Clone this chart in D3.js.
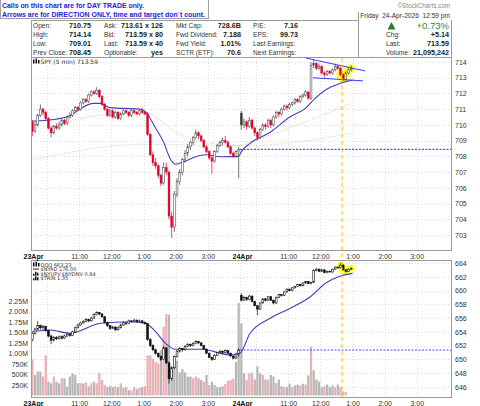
<!DOCTYPE html>
<html>
<head>
<meta charset="utf-8">
<script src="https://cdn.jsdelivr.net/npm/d3@7"></script>
<style>
  body { margin: 0; background: #fff; }
  svg { display: block; font-family: "Liberation Sans", Arial, sans-serif; }
</style>
</head>
<body>
<svg width="480" height="406"></svg>
<script>
// ---- data ----
// SPY 5 min bars [open, high, low, close]
const spyDay1 = [
  [710.2,710.3,709.3,709.6],[709.6,710.2,709.5,710.0],[710.0,710.7,709.9,710.6],[710.6,711.3,710.5,711.0],
  [711.0,711.1,710.6,710.8],[710.8,710.9,710.3,710.4],[710.4,710.5,709.7,709.8],[709.8,709.9,709.2,709.5],
  [709.5,710.0,709.4,709.9],[709.9,710.1,709.7,709.8],[709.8,710.2,709.7,710.0],[710.0,710.4,709.9,710.3],
  [710.3,710.4,710.0,710.1],[710.1,710.6,710.0,710.5],[710.5,710.8,710.4,710.6],[710.6,711.0,710.5,710.9],
  [710.9,711.2,710.8,711.1],[711.1,711.2,710.9,711.0],[711.0,711.5,710.9,711.4],[711.4,711.7,711.3,711.6],
  [711.6,711.7,711.4,711.5],[711.5,712.0,711.4,711.9],[711.9,712.2,711.8,712.1],[712.1,712.2,711.9,712.0],
  [712.0,712.4,711.9,712.2],[712.2,712.3,711.7,711.8],[711.8,711.9,711.2,711.3],[711.3,711.4,710.9,711.0],
  [711.0,711.1,710.5,710.6],[710.6,711.0,710.5,710.9],[710.9,711.0,710.4,710.5],[710.5,710.9,710.4,710.8],
  [710.8,710.9,710.3,710.4],[710.4,710.8,710.3,710.7],[710.7,711.0,710.6,710.9],[710.9,711.0,710.7,710.8],
  [710.8,710.9,710.5,710.6],[710.6,711.0,710.5,710.9],[710.9,711.0,710.7,710.8],[710.8,710.9,710.6,710.7],
  [710.7,711.0,710.6,710.9],[710.9,711.1,710.7,710.8],[710.8,710.9,710.6,710.7],[710.7,710.8,709.3,709.4],
  [709.4,709.5,708.0,708.1],[708.1,708.3,707.4,707.6],[707.6,707.9,707.2,707.4],[707.4,707.5,706.6,706.8],
  [706.8,706.9,706.1,706.3],[706.3,707.6,706.2,707.3],[707.3,707.6,706.8,707.0],[707.0,707.1,704.0,704.2],
  [704.2,704.5,702.8,703.5],[703.5,705.8,703.2,705.6],[705.6,706.6,705.4,706.4],[706.4,707.2,706.2,707.0],
  [707.0,707.9,706.8,707.8],[707.8,708.4,707.6,708.2],[708.2,708.8,708.0,708.6],[708.6,709.0,708.4,708.9],
  [708.9,709.3,708.7,709.2],[709.2,709.7,709.1,709.5],[709.5,709.6,709.1,709.3],[709.3,709.4,708.9,709.0],
  [709.0,709.1,708.5,708.6],[708.6,708.7,708.2,708.3],[708.3,708.4,707.8,707.9],[707.9,708.0,706.9,707.7],
  [707.7,708.4,707.6,708.3],[708.3,708.8,708.2,708.7],[708.7,709.0,708.6,708.9],[708.9,709.2,708.7,709.0],
  [709.0,709.3,708.8,708.9],[708.9,709.0,708.5,708.6],[708.6,708.7,708.1,708.2],[708.2,708.3,707.9,708.0],
  [708.0,708.4,707.9,708.3],[708.3,708.6,706.6,708.45]
];
const spyDay2 = [
  [710.75,710.9,709.7,710.0],[710.0,710.4,709.8,710.2],[710.2,710.3,709.7,709.9],[709.9,710.5,709.8,710.3],
  [710.3,710.4,709.7,709.8],[709.8,709.9,709.3,709.5],[709.5,709.6,709.01,709.2],[709.2,709.8,709.1,709.7],
  [709.7,710.1,709.6,710.0],[710.0,710.1,709.7,709.9],[709.9,710.4,709.8,710.3],[710.3,710.4,709.8,710.0],
  [710.0,710.6,709.9,710.5],[710.5,710.9,710.4,710.8],[710.8,710.9,710.5,710.7],[710.7,711.1,710.6,711.0],
  [711.0,711.3,710.9,711.2],[711.2,711.3,710.9,711.1],[711.1,711.4,711.0,711.3],[711.3,711.5,711.2,711.4],
  [711.4,711.7,711.3,711.6],[711.6,711.7,711.4,711.5],[711.5,711.9,711.4,711.8],[711.8,712.0,711.7,711.9],
  [711.9,712.2,711.8,712.1],[712.1,712.1,711.6,711.7],[711.7,714.0,711.6,713.8],[713.8,714.14,713.6,713.9],
  [713.9,714.0,713.5,713.6],[713.6,713.9,713.5,713.7],[713.7,713.8,713.2,713.3],[713.3,713.4,713.0,713.2],
  [713.2,713.5,713.1,713.4],[713.4,713.5,713.2,713.3],[713.3,713.6,713.2,713.5],[713.5,713.9,713.4,713.7],
  [713.7,713.8,713.5,713.6],[713.6,713.7,713.1,713.2],[713.2,713.3,712.8,712.9],[712.9,713.4,712.8,713.3],
  [713.3,713.6,713.2,713.5],[713.5,713.8,713.4,713.59]
];

// QQQ 5 min bars [open, high, low, close]
const qqqDay1 = [
  [652.9,654.0,652.6,653.8],[653.8,654.6,653.6,654.4],[654.4,655.6,654.2,654.9],[654.9,655.1,654.3,654.6],
  [654.6,655.0,654.3,654.8],[654.8,654.9,654.0,654.2],[654.2,654.3,653.2,653.4],[653.4,653.6,652.2,652.8],
  [652.8,653.4,652.6,653.2],[653.2,653.4,652.8,653.0],[653.0,653.5,652.9,653.3],[653.3,653.5,652.9,653.1],
  [653.1,653.6,653.0,653.4],[653.4,653.9,653.3,653.7],[653.7,653.8,653.3,653.5],[653.5,654.2,653.4,654.0],
  [654.0,654.8,653.9,654.6],[654.6,655.2,654.5,655.0],[655.0,655.5,654.9,655.3],[655.3,655.7,655.2,655.5],
  [655.5,656.0,655.4,655.8],[655.8,655.9,655.4,655.6],[655.6,656.2,655.5,656.0],[656.0,656.7,655.9,656.5],
  [656.5,657.0,656.4,656.8],[656.8,656.9,656.4,656.6],[656.6,656.7,656.0,656.2],[656.2,656.3,655.2,655.4],
  [655.4,655.5,654.7,654.9],[654.9,655.0,654.3,654.5],[654.5,654.9,654.4,654.7],[654.7,654.8,654.1,654.3],
  [654.3,654.8,654.2,654.6],[654.6,655.2,654.5,655.0],[655.0,655.5,654.9,655.3],[655.3,655.4,655.0,655.2],
  [655.2,655.8,655.1,655.6],[655.6,655.7,655.3,655.5],[655.5,655.9,655.4,655.7],[655.7,655.8,655.3,655.5],
  [655.5,655.8,655.4,655.6],[655.6,655.7,655.2,655.4],[655.4,655.5,655.0,655.2],[655.2,655.3,652.7,652.9],
  [652.9,653.1,651.8,652.0],[652.0,652.2,651.2,651.4],[651.4,651.6,650.7,650.9],[650.9,651.0,650.2,650.4],
  [650.4,650.6,649.8,650.0],[650.0,652.0,649.9,651.7],[651.7,651.8,649.3,649.5],[649.5,649.7,646.5,647.2],
  [647.2,649.0,646.9,648.8],[648.8,650.6,648.6,650.4],[650.4,651.4,650.2,651.2],[651.2,651.8,651.0,651.6],
  [651.6,651.7,651.1,651.4],[651.4,652.1,651.3,651.9],[651.9,652.4,651.8,652.2],[652.2,652.3,651.8,652.0],
  [652.0,652.5,651.9,652.3],[652.3,652.8,652.2,652.6],[652.6,652.7,652.2,652.4],[652.4,652.5,651.9,652.0],
  [652.0,652.1,651.4,651.5],[651.5,651.6,650.8,650.9],[650.9,651.0,650.2,650.3],[650.3,650.4,649.8,650.0],
  [650.0,650.8,649.9,650.6],[650.6,651.1,650.5,651.0],[651.0,651.4,650.9,651.2],[651.2,651.3,650.8,651.0],
  [651.0,651.5,650.9,651.3],[651.3,651.4,650.8,650.9],[650.9,651.0,650.4,650.5],[650.5,650.6,650.0,650.2],
  [650.2,651.0,650.1,650.8],[650.8,651.6,650.4,651.4]
];
const qqqDay2 = [
  [659.3,659.6,658.4,658.6],[658.6,659.2,658.5,659.0],[659.0,659.1,658.5,658.7],[658.7,659.4,658.6,659.2],
  [659.2,659.3,658.3,658.4],[658.4,658.5,657.7,657.8],[657.8,657.9,656.4,657.3],[657.3,658.3,657.2,658.2],
  [658.2,658.9,658.1,658.8],[658.8,658.9,658.4,658.6],[658.6,659.2,658.5,659.1],[659.1,659.2,658.5,658.6],
  [658.6,658.7,658.0,658.2],[658.2,659.1,658.1,659.0],[659.0,659.5,658.9,659.4],[659.4,659.5,659.1,659.3],
  [659.3,659.9,659.2,659.8],[659.8,660.3,659.7,660.2],[660.2,660.3,659.9,660.0],[660.0,660.5,659.9,660.4],
  [660.4,660.7,660.3,660.6],[660.6,661.0,660.5,660.9],[660.9,661.0,660.6,660.7],[660.7,661.2,660.6,661.1],
  [661.1,661.4,661.0,661.3],[661.3,661.4,660.9,661.0],[661.0,661.3,660.9,661.2],[661.2,663.1,661.1,662.9],
  [662.9,663.3,662.8,663.1],[663.1,663.2,662.7,662.8],[662.8,663.2,662.7,663.0],[663.0,663.1,662.5,662.6],
  [662.6,662.9,662.5,662.8],[662.8,662.9,662.6,662.7],[662.7,663.2,662.6,663.1],[663.1,663.5,663.0,663.4],
  [663.4,663.5,663.2,663.3],[663.3,664.0,663.2,663.7],[663.7,663.8,662.9,663.0],[663.0,663.1,662.6,662.8],
  [662.8,663.2,662.7,663.1],[663.1,663.4,663.0,663.23]
];

// volume (millions) and bar colour: r = down (pink), g = up (grey)
const volDay1 = [
  0.86,0.49,0.57,0.57,0.45,0.96,0.33,0.29,0.45,0.33,0.29,0.41,0.41,0.21,0.45,0.53,
  0.49,0.29,0.29,0.29,0.31,0.22,0.29,0.33,0.29,0.54,0.37,0.25,0.20,0.22,0.20,0.22,
  0.20,0.29,0.18,0.20,0.13,0.12,0.20,0.15,0.18,0.20,0.22,0.96,0.96,0.87,0.80,0.76,
  1.08,1.64,1.94,1.92,0.69,0.76,0.83,0.55,0.63,0.55,0.45,0.45,0.41,0.45,0.41,0.37,
  0.33,0.49,0.25,0.33,0.25,0.20,0.20,0.22,0.27,0.35,0.37,0.40,0.80,2.20
];
const volColDay1 = "rgggrrggrg" + "grggggggrg" + "rgrgrrrrgg" + "grgrgrgrrg" +
  "rgrrrrrrgr" + "rggggggggg" + "rrggrgrggg" + "ggrrrrgg";
const volDay2 = [
  1.72,0.53,0.37,0.53,0.54,0.38,0.69,0.53,0.49,0.38,0.38,0.49,0.45,0.30,0.38,0.22,
  0.20,0.20,0.28,0.20,0.24,0.26,0.24,0.28,0.26,0.48,1.16,0.60,0.38,0.33,0.20,0.22,
  0.26,0.20,0.24,0.20,0.26,0.20,0.10,0.08,0,0
];
const volColDay2 = "ggrrrgggrgrggrggrggrggrgrgrggggrgggrgrrrrr";

// moving averages, [bar index, value] knots
const spyMA = [[0,710.25],[5.5,710.3],[13,710.52],[22.7,711.37],[25.4,711.37],[29,711.1],[40.4,711.0],
  [42.2,710.84],[46,709.8],[49,708.9],[51.6,707.8],[53.5,707.5],[56.5,707.66],[61,707.98],[64.7,708.1],
  [70.4,707.98],[77,708.0],[78,708.3],[81.25,708.83],[88.75,709.53],[96.25,710.52],[101.9,711.05],
  [105.6,711.7],[109.4,712.22],[115,712.65],[119.5,712.86]];
const spyMA2 = [[7,709.9],[25,710.6],[42,710.75],[55,709.4],[66,708.85],[77,708.68],[81,708.9],[119.5,711.4]];
const spyMA3 = [[0,707.77],[42,708.77],[78,708.65],[119.5,709.47]];
const qqqMA = [[0,654.03],[6.6,654.27],[14.1,653.8],[25.4,655.25],[36.6,655.48],[42.2,655.25],[46,654.03],
  [49.7,652.34],[53.5,651.47],[62.9,651.47],[74.1,650.65],[77.5,650.9],[81.25,653.8],[88.75,655.97],
  [96.25,657.42],[103.75,659.1],[109.4,661.05],[115,662.11],[119.5,662.5]];

const spyPrevClose = 708.45;
const qqqPrevClose = 651.37;
// drawn trend lines (triangle) [bar index, price]
const trendUpper = [[102.6,714.25],[124.7,713.43]];
const trendLower = [[105.2,713.0],[123.9,712.8]];
const markerBar = 116.1;

// axis ticks
const priceTicks = d3.range(703, 715);
const qqqTicks = d3.range(646, 665, 2);
const volTicks = [0.25,0.5,0.75,1,1.25,1.5,1.75,2,2.25];
const dayStarts = [0, 78];
const dayLabels = ["23Apr", "24Apr"];
const hourOffsets = [18, 30, 42, 54, 66];
const hourLabels = ["11:00", "12:00", "1:00", "2:00", "3:00"];
const gridOffsets = [6, 18, 30, 42, 54, 66];

// header info
const col1 = [["Open:","710.75"],["High:","714.14"],["Low:","709.01"],["Prev Close:","708.45"]];
const col2 = [["Ask:","713.61 x 126"],["Bid:","713.59 x 80"],["Last:","713.59 x 40"],["Optionable:","yes"]];
const col3 = [["Mkt Cap:","728.6B"],["Fwd Dividend:","7.188"],["Fwd Yield:","1.01%"],["SCTR (ETF):","70.6"]];
const col4 = [["P/E:","7.16"],["EPS:","99.73"],["Last Earnings:",""],["Next Earnings:",""]];
const col5 = [["Chg:","+5.14"],["Last:","713.59"],["Volume:","21,095,242"]];
const lowerLegend = ["QQQ 663.23", "$NYAD 176.00", "$NYUPV:$NYDNV 0.84", "$TRIN 1.35"];

// ---- setup ----
const svg = d3.select("svg");
const left = 31, right = 452;
const priceTop = 57, priceBottom = 250;
const lowTop = 260, lowBottom = 397;

const x = d3.scaleLinear().domain([0, 156]).range([31, 449]);
const yP = d3.scaleLinear().domain([703, 714]).range([235, 62]);
const yQ = d3.scaleLinear().domain([646, 664]).range([387, 263]);
const yV = d3.scaleLinear().domain([0, 2.25]).range([395.5, 301]);

const toBars = (rows) => rows.map((d, i) => ({ i: i, o: d[0], h: d[1], l: d[2], c: d[3] }));
const spy = toBars(spyDay1.concat(spyDay2));
const qqq = toBars(qqqDay1.concat(qqqDay2));
const volCols = volColDay1 + volColDay2;
const vol = volDay1.concat(volDay2).map((v, i) => ({ i: i, v: v, down: volCols[i] === "r" }));

// clip paths for the panels
const defs = svg.append("defs");
defs.append("clipPath").attr("id", "clipP").append("rect")
  .attr("x", left).attr("y", priceTop).attr("width", right - left).attr("height", priceBottom - priceTop);
defs.append("clipPath").attr("id", "clipL").append("rect")
  .attr("x", left).attr("y", lowTop).attr("width", right - left).attr("height", lowBottom - lowTop);
const blur = defs.append("filter").attr("id", "glow").attr("x", "-50%").attr("y", "-50%")
  .attr("width", "200%").attr("height", "200%");
blur.append("feGaussianBlur").attr("stdDeviation", 1.2);

// ---- grid ----
function drawGrid(top, bottom, yScale, ticks) {
  const g = svg.append("g").attr("class", "grid");
  g.selectAll(".h").data(ticks).enter().append("line")
    .attr("x1", left).attr("x2", right)
    .attr("y1", (d) => Math.round(yScale(d)) + 0.5).attr("y2", (d) => Math.round(yScale(d)) + 0.5)
    .attr("stroke", "#cfcfcf").attr("stroke-width", 0.7).attr("stroke-dasharray", "1,2");
  const vx = [];
  dayStarts.forEach((s) => gridOffsets.forEach((o) => vx.push(s + o)));
  vx.push(78);
  g.selectAll(".v").data(vx).enter().append("line")
    .attr("x1", (d) => Math.round(x(d)) + 0.5).attr("x2", (d) => Math.round(x(d)) + 0.5)
    .attr("y1", top).attr("y2", bottom)
    .attr("stroke", "#cfcfcf").attr("stroke-width", 0.7).attr("stroke-dasharray", "1,2");
}
drawGrid(priceTop, priceBottom, yP, priceTicks);
drawGrid(lowTop, lowBottom, yQ, qqqTicks);

// ---- price panel ----
const pG = svg.append("g").attr("clip-path", "url(#clipP)");

const line = (ys) => d3.line().x((d) => x(d[0] + 0.5)).y((d) => ys(d[1])).curve(d3.curveMonotoneX);

pG.append("path").datum(spyMA3).attr("d", line(yP)).attr("fill", "none")
  .attr("stroke", "#9fd39f").attr("stroke-width", 0.8).attr("stroke-dasharray", "1,1.5");
pG.append("path").datum(spyMA2).attr("d", line(yP)).attr("fill", "none")
  .attr("stroke", "#f0a0a8").attr("stroke-width", 0.8).attr("stroke-dasharray", "1,1.5");

pG.append("line")
  .attr("x1", x(78)).attr("x2", right)
  .attr("y1", yP(spyPrevClose)).attr("y2", yP(spyPrevClose))
  .attr("stroke", "#4b4bff").attr("stroke-width", 1.2).attr("stroke-dasharray", "2,1.5");

// yellow highlight on the latest bars
const hiBars = d3.range(115, 120);
pG.append("path").datum(hiBars.map((i) => [i, spy[i].c]))
  .attr("d", d3.line().x((d) => x(d[0] + 0.5)).y((d) => yP(d[1])))
  .attr("fill", "none").attr("stroke", "#ffff00").attr("stroke-width", 8)
  .attr("stroke-linecap", "round").attr("stroke-linejoin", "round").attr("filter", "url(#glow)");

pG.append("path").datum(spyMA).attr("d", line(yP)).attr("fill", "none")
  .attr("stroke", "#3f3fc0").attr("stroke-width", 1.1);

function drawCandles(g, bars, ys, colorFn, sw) {
  const c = g.append("g").selectAll("g").data(bars).enter().append("g");
  c.append("line")
    .attr("x1", (d) => x(d.i + 0.5)).attr("x2", (d) => x(d.i + 0.5))
    .attr("y1", (d) => ys(d.h)).attr("y2", (d) => ys(d.l))
    .attr("stroke", colorFn).attr("stroke-width", 0.7);
  c.append("rect")
    .attr("x", (d) => x(d.i + 0.5) - 0.9).attr("width", 1.8)
    .attr("y", (d) => ys(Math.max(d.o, d.c)))
    .attr("height", (d) => Math.max(0.6, Math.abs(ys(d.o) - ys(d.c))))
    .attr("fill", (d) => (d.c < d.o ? colorFn(d) : "#fff"))
    .attr("stroke", colorFn).attr("stroke-width", sw);
}

drawCandles(pG, spy, yP, (d) => {
  const prev = d.i > 0 ? spy[d.i - 1].c : d.o;
  return d.c >= prev ? "#3a3a3a" : "#e0002a";
}, 0.5);

pG.selectAll(".trend").data([trendUpper, trendLower]).enter().append("line")
  .attr("x1", (d) => x(d[0][0])).attr("y1", (d) => yP(d[0][1]))
  .attr("x2", (d) => x(d[1][0])).attr("y2", (d) => yP(d[1][1]))
  .attr("stroke", "#3a3aff").attr("stroke-width", 1);

// ---- lower panel ----
const lG = svg.append("g").attr("clip-path", "url(#clipL)");

lG.selectAll(".vol").data(vol).enter().append("rect")
  .attr("x", (d) => x(d.i) + 0.2).attr("width", x(1) - x(0) - 0.4)
  .attr("y", (d) => yV(d.v)).attr("height", (d) => yV(0) - yV(d.v))
  .attr("fill", (d) => (d.down ? "#eab0b6" : "#b7b7b7"));

lG.append("line")
  .attr("x1", x(78)).attr("x2", right)
  .attr("y1", yQ(qqqPrevClose)).attr("y2", yQ(qqqPrevClose))
  .attr("stroke", "#4b4bff").attr("stroke-width", 1.2).attr("stroke-dasharray", "2,1.5");

lG.append("path").datum(hiBars.map((i) => [i, qqq[i].c]))
  .attr("d", d3.line().x((d) => x(d[0] + 0.5)).y((d) => yQ(d[1])))
  .attr("fill", "none").attr("stroke", "#ffff00").attr("stroke-width", 7)
  .attr("stroke-linecap", "round").attr("stroke-linejoin", "round").attr("filter", "url(#glow)");

lG.append("path").datum(qqqMA).attr("d", line(yQ)).attr("fill", "none")
  .attr("stroke", "#3f3fc0").attr("stroke-width", 1.1);

drawCandles(lG, qqq, yQ, () => "#111", 0.6);

// ---- marker line ----
svg.append("line")
  .attr("x1", x(markerBar)).attr("x2", x(markerBar))
  .attr("y1", priceTop).attr("y2", lowBottom)
  .attr("stroke", "#f2c200").attr("stroke-width", 1).attr("stroke-dasharray", "4,3");

// ---- frames ----
const frame = svg.append("g").attr("fill", "none").attr("stroke", "#9a9a9a").attr("stroke-width", 1);
frame.append("rect").attr("x", left + 0.5).attr("y", priceTop + 0.5)
  .attr("width", right - left - 1).attr("height", priceBottom - priceTop);
frame.append("rect").attr("x", left + 0.5).attr("y", lowTop + 0.5)
  .attr("width", right - left - 1).attr("height", lowBottom - lowTop);
frame.append("path").attr("d", `M${left + 0.5},${priceTop}V20.5H358.5V57 M358.5,12V20.5 M${right - 0.5},20V57`);

// ---- axes ----
function styleAxis(g) {
  g.select(".domain").remove();
  g.selectAll("text").attr("font-size", 7).attr("fill", "#333")
    .attr("font-family", '"Liberation Sans", Arial, sans-serif');
}

svg.append("g").attr("transform", `translate(${right},0)`)
  .call(d3.axisRight(yP).tickValues(priceTicks).tickSize(0).tickPadding(3).tickFormat(d3.format("d")))
  .call(styleAxis);
svg.append("g").attr("transform", `translate(${right},0)`)
  .call(d3.axisRight(yQ).tickValues(qqqTicks).tickSize(0).tickPadding(3).tickFormat(d3.format("d")))
  .call(styleAxis);
svg.append("g").attr("transform", `translate(${left - 2},0)`)
  .call(d3.axisLeft(yV).tickValues(volTicks).tickSize(0).tickPadding(1)
    .tickFormat((v) => (v >= 1 ? v.toFixed(2) + "M" : v * 1000 + "K")))
  .call(styleAxis);

const hourTicks = [];
const hourText = [];
dayStarts.forEach((s) => hourOffsets.forEach((o, k) => { hourTicks.push(s + o); hourText.push(hourLabels[k]); }));

[priceBottom + 1, lowBottom + 1].forEach((yy) => {
  svg.append("g").attr("transform", `translate(0,${yy})`)
    .call(d3.axisBottom(x).tickValues(hourTicks).tickSize(0).tickPadding(3)
      .tickFormat((d, k) => hourText[k]))
    .call(styleAxis);
  svg.append("g").attr("transform", `translate(2,${yy})`)
    .call(d3.axisBottom(x).tickValues(dayStarts).tickSize(0).tickPadding(3)
      .tickFormat((d, k) => dayLabels[k]))
    .call(styleAxis)
    .selectAll("text").attr("font-weight", "bold").attr("fill", "#111");
});

// ---- panel legends ----
const legFont = '"DejaVu Sans", Verdana, sans-serif';
function icon(g, xx, yy, kind) {
  if (kind === "candle") {
    g.append("rect").attr("x", xx).attr("y", yy - 4).attr("width", 1.5).attr("height", 4).attr("fill", "#111");
    g.append("rect").attr("x", xx + 2.5).attr("y", yy - 5).attr("width", 1.5).attr("height", 5).attr("fill", "#111");
    g.append("rect").attr("x", xx + 5).attr("y", yy - 3.5).attr("width", 1.5).attr("height", 3.5).attr("fill", "#111");
  } else if (kind === "line") {
    g.append("rect").attr("x", xx).attr("y", yy - 2.5).attr("width", 6).attr("height", 1).attr("fill", "#222");
  } else {
    g.append("rect").attr("x", xx).attr("y", yy - 2).attr("width", 1.5).attr("height", 2).attr("fill", "#111");
    g.append("rect").attr("x", xx + 2).attr("y", yy - 4).attr("width", 1.5).attr("height", 4).attr("fill", "#111");
    g.append("rect").attr("x", xx + 4).attr("y", yy - 3).attr("width", 1.5).attr("height", 3).attr("fill", "#111");
  }
}
const legP = svg.append("g");
icon(legP, 33, 63.5, "candle");
legP.append("text").attr("x", 40.5).attr("y", 63.5).attr("font-size", 6).attr("fill", "#333")
  .attr("font-family", legFont).text("SPY (5 min) 713.59");

const legL = svg.append("g");
const legKinds = ["candle", "line", "bar", "bar"];
lowerLegend.forEach((t, k) => {
  const yy = 266.5 + k * 4.6;
  icon(legL, 33, yy, legKinds[k]);
  legL.append("text").attr("x", 40.5).attr("y", yy).attr("font-size", 5).attr("fill", "#333")
    .attr("font-family", legFont).text(t);
});

// ---- header ----
const head = svg.append("g").attr("font-size", 6.6).attr("fill", "#222");
const rowY = [28, 37, 46, 55];
function infoCol(rows, lx, vx, ys) {
  rows.forEach((r, k) => {
    head.append("text").attr("x", lx).attr("y", ys[k]).attr("fill", "#333").text(r[0]);
    head.append("text").attr("x", vx).attr("y", ys[k]).attr("text-anchor", "end")
      .attr("font-weight", "bold").attr("font-size", 7.2).text(r[1]);
  });
}
infoCol(col1, 33, 91, rowY);
infoCol(col2, 104, 163, rowY);
infoCol(col3, 176, 241, rowY);
infoCol(col4, 253, 298, rowY);
infoCol(col5, 386, 449, rowY.slice(1));

head.append("text").attr("x", 450).attr("y", 18).attr("text-anchor", "end").attr("fill", "#333")
  .attr("xml:space", "preserve").text("Friday  24-Apr-2026  12:59 pm");
head.append("path").attr("d", "M387.5,29.5L391.5,22L395.5,29.5Z").attr("fill", "#2e7d32");
head.append("text").attr("x", 449).attr("y", 29).attr("text-anchor", "end").attr("font-size", 9.5)
  .attr("fill", "#2e8b2e").text("+0.73%");
svg.append("text").attr("x", 450).attr("y", 8).attr("text-anchor", "end").attr("font-size", 6.3)
  .attr("fill", "#888").text("\u00a9StockCharts.com");

// notice box
const note = svg.append("g");
note.append("rect").attr("x", 0.5).attr("y", -1).attr("width", 208).attr("height", 19.5)
  .attr("fill", "#fff").attr("stroke", "#a0a0a0");
note.append("text").attr("x", 2).attr("y", 8).attr("font-size", 8).attr("font-weight", "bold")
  .attr("fill", "#1a1ae6").attr("textLength", 142).attr("lengthAdjust", "spacingAndGlyphs")
  .text("Calls on this chart are for DAY TRADE only.");
note.append("text").attr("x", 2).attr("y", 16.5).attr("font-size", 8).attr("font-weight", "bold")
  .attr("fill", "#1a1ae6").attr("textLength", 203).attr("lengthAdjust", "spacingAndGlyphs")
  .text("Arrows are for DIRECTION ONLY, time and target don`t count.");
</script>
</body>
</html>
